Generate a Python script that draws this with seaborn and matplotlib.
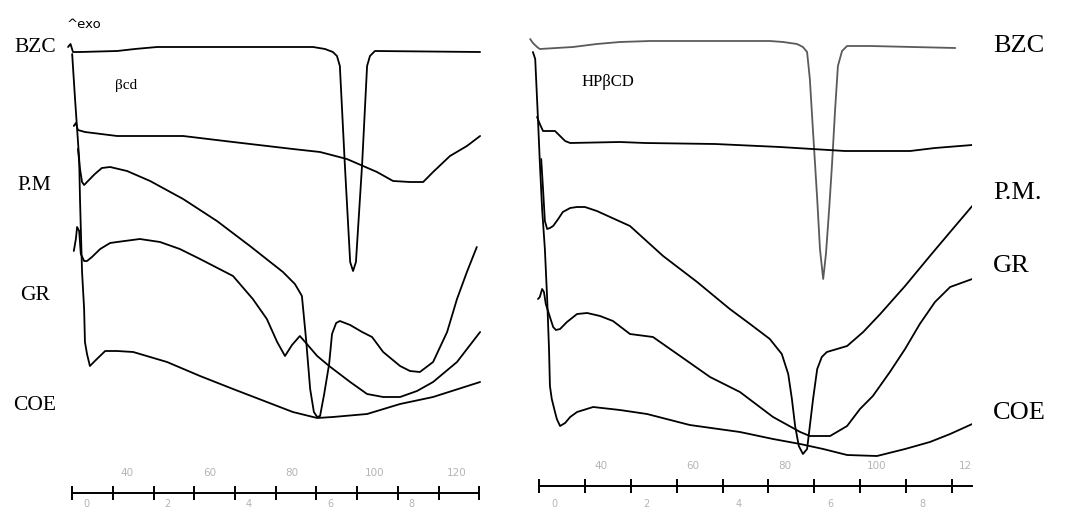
import matplotlib
matplotlib.use("Agg")
import matplotlib.pyplot as plt
import seaborn as sns
import pandas as pd
from matplotlib.transforms import ScaledTranslation

# ---------------- DSC thermograms, beta-cyclodextrin systems (left) ----------------
# temperature in degC, heat flow in arbitrary units (curves stacked, exo up)
bzc_l_t = [25.7, 26.3, 26.9, 28.6, 37.6, 41.9, 47.3, 85.1, 88.0, 89.9, 90.9, 91.6, 92.8, 94.1,
           94.8, 95.5, 97.0, 98.2, 98.9, 100.1, 125.6]
bzc_l_hf = [45.2, 45.5, 44.7, 44.7, 44.8, 45.0, 45.2, 45.2, 45.0, 44.7, 44.3, 43.3, 33.5, 23.7,
            22.8, 23.7, 33.5, 43.3, 44.3, 44.8, 44.7]

bcd_t = [27.1, 27.6, 28.1, 29.8, 37.6, 53.6, 65.7, 80.2, 86.8, 93.3, 100.6, 104.5, 108.6, 111.8,
         114.2, 118.3, 122.4, 125.6]
bcd_hf = [37.3, 37.6, 36.9, 36.7, 36.3, 36.3, 35.7, 35.0, 34.7, 34.0, 32.7, 31.8, 31.7, 31.7,
          32.7, 34.3, 35.3, 36.3]

pm_l_t = [28.1, 28.6, 29.1, 29.6, 30.3, 32.2, 33.9, 35.9, 40.0, 45.6, 53.6, 61.8, 69.8, 77.8,
          80.7, 81.7, 82.4, 83.4, 84.4, 85.3, 86.1, 86.8, 87.8, 89.0, 89.7, 90.7, 91.6, 94.1,
          97.0, 99.4, 102.1, 106.2, 108.6, 111.0, 114.2, 117.6, 120.0, 122.4, 124.8]
pm_l_hf = [35.0, 33.0, 31.7, 31.4, 31.7, 32.5, 33.1, 33.2, 32.8, 31.8, 30.0, 27.8, 25.3, 22.7,
           21.5, 20.8, 20.3, 16.0, 11.0, 8.7, 8.2, 8.3, 10.5, 13.5, 16.5, 17.6, 17.8, 17.4,
           16.7, 16.2, 14.7, 13.3, 12.8, 12.7, 13.7, 16.7, 20.0, 22.7, 25.2]

gr_l_t = [27.1, 27.6, 27.9, 28.4, 28.8, 29.6, 30.3, 31.5, 33.5, 35.9, 37.6, 43.1, 48.0, 52.8,
          57.7, 65.7, 70.5, 73.9, 76.4, 78.3, 80.0, 81.9, 83.6, 86.1, 89.0, 94.1, 98.2, 102.1,
          106.2, 110.3, 114.2, 120.0, 125.6]
gr_l_hf = [24.8, 26.0, 27.2, 26.8, 24.5, 23.8, 23.8, 24.2, 25.0, 25.6, 25.7, 26.0, 25.7, 25.0,
           24.0, 22.3, 20.0, 18.0, 15.7, 14.3, 15.4, 16.3, 15.5, 14.3, 13.3, 11.7, 10.5, 10.2,
           10.2, 10.8, 11.7, 13.7, 16.7]

coe_l_t = [26.7, 27.4, 27.9, 28.4, 28.6, 28.8, 29.1, 29.6, 29.8, 30.3, 31.0, 32.2, 34.7, 37.6,
           41.5, 49.7, 57.7, 65.7, 73.9, 80.2, 86.1, 89.9, 98.2, 106.2, 114.2, 125.6]
coe_l_hf = [44.5, 40.0, 37.0, 34.0, 30.0, 27.0, 22.7, 19.0, 15.7, 14.5, 13.3, 13.8, 14.8, 14.8,
            14.7, 13.7, 12.3, 11.0, 9.7, 8.7, 8.1, 8.2, 8.5, 9.5, 10.2, 11.7]

# ---------------- DSC thermograms, HP-beta-cyclodextrin systems (right) ----------------
bzc_r_t = [24.6, 25.2, 26.1, 26.7, 33.9, 39.1, 44.1, 50.7, 76.7, 79.6, 82.6, 83.9, 84.8, 85.4,
           86.1, 87.0, 87.6, 88.3, 88.9, 89.6, 90.2, 90.9, 91.5, 92.4, 93.5, 98.5, 117.0]
bzc_r_hf = [46.0, 45.6, 45.2, 45.0, 45.2, 45.5, 45.7, 45.8, 45.8, 45.7, 45.5, 45.2, 44.7, 42.0,
            36.7, 30.0, 25.0, 22.0, 24.5, 29.0, 33.3, 39.0, 43.3, 44.8, 45.3, 45.3, 45.1]

hpbcd_t = [26.1, 26.7, 27.4, 30.0, 31.1, 32.2, 33.3, 44.1, 49.6, 64.8, 78.9, 93.0, 107.2, 112.6,
           120.7]
hpbcd_hf = [38.2, 37.5, 36.8, 36.8, 36.3, 35.8, 35.6, 35.7, 35.6, 35.5, 35.2, 34.8, 34.8, 35.1,
            35.4]

pm_r_t = [27.0, 27.4, 27.8, 28.3, 28.9, 29.6, 30.7, 31.7, 33.3, 34.8, 36.5, 39.1, 46.3, 53.5,
          60.9, 68.0, 72.4, 76.7, 79.3, 80.7, 81.5, 82.2, 83.0, 83.9, 84.8, 85.4, 86.1, 87.0,
          88.0, 89.1, 93.5, 97.0, 100.7, 106.1, 111.5, 115.9, 120.7]
pm_r_hf = [34.0, 31.0, 27.8, 27.0, 27.1, 27.3, 28.0, 28.7, 29.1, 29.2, 29.2, 28.8, 27.3, 24.3,
           21.7, 19.0, 17.5, 16.0, 14.5, 12.5, 10.0, 7.3, 5.3, 4.5, 5.0, 7.3, 10.0, 13.0,
           14.2, 14.7, 15.3, 16.7, 18.5, 21.3, 24.3, 26.7, 29.3]

gr_r_t = [26.3, 26.7, 27.2, 27.6, 28.0, 28.9, 29.6, 30.2, 31.1, 32.6, 34.8, 37.0, 39.8, 42.6,
          46.3, 51.3, 57.2, 63.7, 70.2, 77.4, 83.3, 85.4, 89.8, 93.5, 96.3, 99.1, 102.8, 106.1,
          109.3, 112.6, 115.9, 120.7]
gr_r_hf = [20.0, 20.2, 21.0, 20.7, 19.5, 18.2, 17.2, 16.9, 17.0, 17.7, 18.5, 18.6, 18.3, 17.8,
           16.5, 16.2, 14.3, 12.2, 10.7, 8.2, 6.7, 6.3, 6.3, 7.3, 9.0, 10.3, 12.7, 15.0,
           17.5, 19.7, 21.2, 22.0]

coe_r_t = [25.2, 25.7, 26.3, 26.7, 27.2, 27.8, 28.3, 28.7, 28.9, 29.3, 30.0, 30.4, 31.1, 32.2,
           33.3, 34.8, 38.3, 44.1, 50.0, 59.3, 70.2, 77.4, 83.3, 88.3, 93.5, 100.0, 106.1, 111.5,
           115.9, 120.7]
coe_r_hf = [44.7, 44.0, 38.0, 33.7, 29.0, 25.0, 20.0, 15.0, 11.3, 10.0, 8.7, 8.0, 7.3, 7.6,
            8.2, 8.7, 9.2, 8.9, 8.5, 7.4, 6.7, 6.0, 5.5, 5.0, 4.4, 4.3, 5.0, 5.7, 6.5, 7.5]

# axis annotations
temp_labels = [40, 60, 80, 100, 120]
minutes_l = list(range(0, 11))
minutes_r = list(range(0, 10))
minute_labels = [0, 2, 4, 6, 8]
sample_names = ["BZC", "P.M", "GR", "COE"]
sample_names_r = ["BZC", "P.M.", "GR", "COE"]
host_l = "βcd"
host_r = "HPβCD"

# run start temperature and heating rate per panel (degC, degC/min)
start_l, rate_l = 26.7, 9.87
start_r, rate_r = 26.5, 9.98

sns.set_theme(style="white")
plt.rcParams["font.family"] = ["DejaVu Sans"]

W, H = 1066, 510
fig = plt.figure(figsize=(W / 100, H / 100), dpi=100)
fig.patch.set_facecolor("white")


def px_box(x0, y0, x1, y1):
    return [x0 / W, 1 - y1 / H, (x1 - x0) / W, (y1 - y0) / H]


ax_l = fig.add_axes(px_box(55, 0, 490, 494))
ax_r = fig.add_axes(px_box(525, 0, 972, 487))

# (axes, xlim, ylim, start, rate, minutes, y of temperature labels, curves,
#  label x-shift px, label y-shift px, spine runs to right edge)
panels = [
    (ax_l, (22.54, 128.0), (0.6, 50.0), start_l, rate_l, minutes_l, 2.7,
     [(bzc_l_t, bzc_l_hf, "black"), (bcd_t, bcd_hf, "black"), (pm_l_t, pm_l_hf, "black"),
      (gr_l_t, gr_l_hf, "black"), (coe_l_t, coe_l_hf, "black")], 14, 3, False),
    (ax_r, (23.48, 120.65), (1.3, 50.0), start_r, rate_r, minutes_r, 3.4,
     [(bzc_r_t, bzc_r_hf, "#5a5a5a"), (hpbcd_t, hpbcd_hf, "black"), (pm_r_t, pm_r_hf, "black"),
      (gr_r_t, gr_r_hf, "black"), (coe_r_t, coe_r_hf, "black")], 16, -4, True),
]

for ax, xlim, ylim, t0, rate, minutes, temp_y, curves, dx, dy, to_edge in panels:
    ax.set_facecolor("white")
    for t, hf, col in curves:
        df = pd.DataFrame({"T": t, "hf": hf})
        sns.lineplot(data=df, x="T", y="hf", ax=ax, color=col, lw=1.3,
                     sort=False, estimator=None)
    ax.set_xlim(*xlim)
    ax.set_ylim(*ylim)
    ax.set_xlabel("")
    ax.set_ylabel("")
    for side in ("top", "left", "right"):
        ax.spines[side].set_visible(False)
    sp = ax.spines["bottom"]
    sp.set_visible(True)
    sp.set_color("black")
    sp.set_linewidth(1.4)
    tick_pos = [t0 + rate * m for m in minutes]
    sp.set_bounds(t0, xlim[1] if to_edge else tick_pos[-1])
    ax.set_xticks(tick_pos)
    ax.set_xticklabels([str(m) if m in minute_labels else "" for m in minutes])
    ax.set_yticks([])
    ax.tick_params(axis="x", direction="inout", length=10, width=1.4, color="black",
                   pad=1, labelsize=7, labelcolor="#b4b4b4", bottom=True)
    shift = ScaledTranslation(dx / 100, dy / 100, fig.dpi_scale_trans)
    for lab in ax.get_xticklabels():
        lab.set_transform(lab.get_transform() + shift)
    for T in temp_labels:
        ax.text(T, temp_y, str(T), ha="center", va="center", fontsize=7.5,
                color="#b4b4b4", clip_on=True)

# sample labels
serif = ["Liberation Serif", "DejaVu Serif"]
left_pos = [(35, 47), (34, 186), (35, 296), (35, 406)]
for name, (x, y) in zip(sample_names, left_pos):
    fig.text(x / W, 1 - y / H, name, ha="center", va="center", fontsize=15.5,
             family=serif, color="black")
right_pos = [(993, 46), (993, 193), (993, 266), (993, 413)]
for name, (x, y) in zip(sample_names_r, right_pos):
    fig.text(x / W, 1 - y / H, name, ha="left", va="center", fontsize=19,
             family=serif, color="black")

fig.text(84 / W, 1 - 24 / H, "^exo", ha="center", va="center", fontsize=9.5,
         color="black")
fig.text(126 / W, 1 - 85 / H, host_l, ha="center", va="center", fontsize=11,
         family=serif, color="black")
fig.text(608 / W, 1 - 82 / H, host_r, ha="center", va="center", fontsize=12,
         family=serif, color="black")

fig.savefig("out.png", dpi=100, facecolor="white")
